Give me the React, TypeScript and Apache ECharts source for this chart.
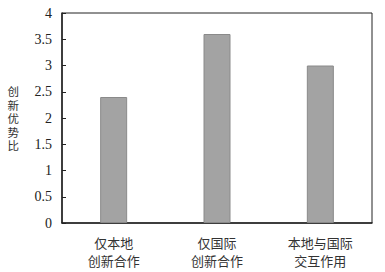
import React, { useEffect, useRef } from "react";
import * as echarts from "echarts";

const categories = ["仅本地\n创新合作", "仅国际\n创新合作", "本地与国际\n交互作用"];
const ratios = [2.4, 3.6, 3.0];
const yTicks = [0, 0.5, 1, 1.5, 2, 2.5, 3, 3.5, 4];
const yName = "创新优势比";

export default function App() {
  const ref = useRef<HTMLDivElement>(null);

  useEffect(() => {
    if (!ref.current) return;
    const chart = echarts.init(ref.current, null, { renderer: "svg" });
    chart.setOption({
      animation: false,
      backgroundColor: "#ffffff",
      grid: {
        left: 62,
        right: 13,
        top: 13,
        bottom: 49,
        show: true,
        borderColor: "#222",
        borderWidth: 1,
        backgroundColor: "transparent",
      },
      xAxis: {
        type: "category",
        data: categories,
        axisLine: { lineStyle: { color: "#222", width: 1.5 } },
        axisTick: { show: false },
        axisLabel: {
          fontFamily: "Noto Sans CJK SC",
          fontSize: 13,
          lineHeight: 18,
          color: "#333",
          margin: 10,
        },
      },
      yAxis: {
        type: "value",
        min: yTicks[0],
        max: yTicks[yTicks.length - 1],
        interval: 0.5,
        name: yName.split("").join("\n"),
        nameLocation: "middle",
        nameRotate: 0,
        nameGap: 43,
        nameTextStyle: {
          fontFamily: "Noto Sans CJK SC",
          fontSize: 11.5,
          lineHeight: 13.5,
          color: "#333",
        },
        splitLine: { show: false },
        axisLine: { show: true, lineStyle: { color: "#222", width: 1.5 } },
        axisTick: { show: true, inside: true, length: 4, lineStyle: { color: "#222" } },
        axisLabel: {
          fontFamily: "Liberation Serif",
          fontSize: 14,
          color: "#222",
          margin: 10,
          formatter: (v: number) => String(v),
        },
      },
      series: [
        {
          type: "bar",
          data: ratios,
          barWidth: 27,
          itemStyle: {
            color: "#a3a3a3",
            borderColor: "#8a8a8a",
            borderWidth: 1,
          },
        },
      ],
    });
    return () => chart.dispose();
  }, []);

  return <div ref={ref} style={{ width: 385, height: 272, position: "absolute", left: 0, top: 0 }} />;
}
